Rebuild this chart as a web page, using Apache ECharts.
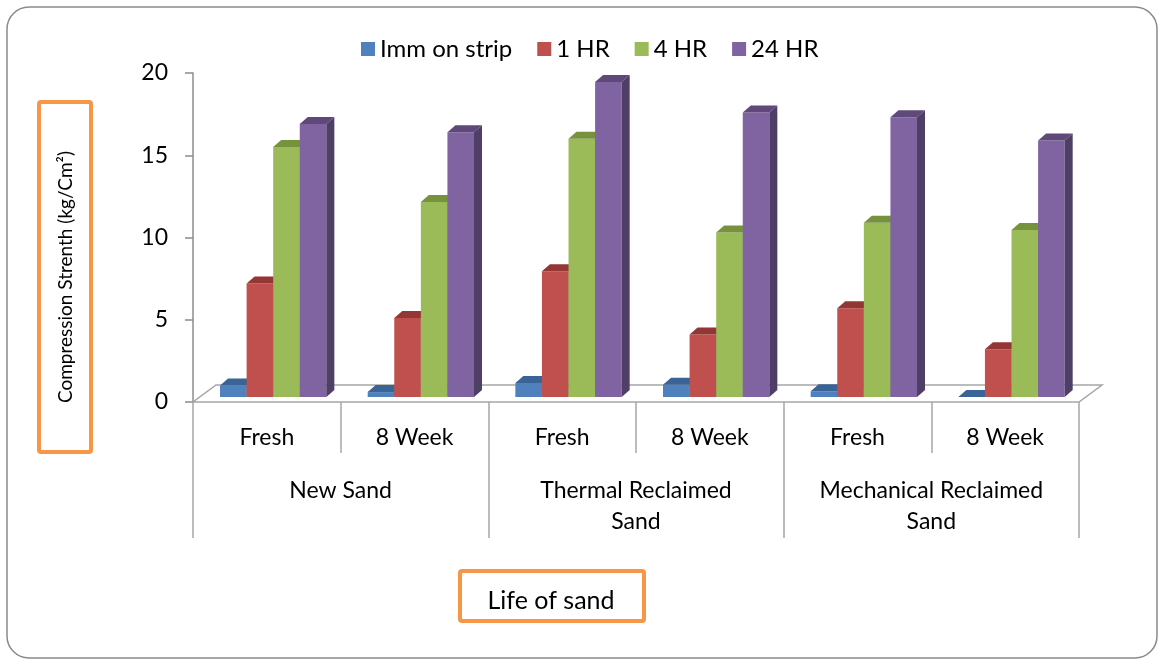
<!DOCTYPE html>
<html>
<head>
<meta charset="utf-8">
<title>Compression Strength vs Life of Sand</title>
<script src="https://cdn.jsdelivr.net/npm/echarts@6/dist/echarts.min.js"></script>
<style>
  html, body { margin: 0; padding: 0; background: #ffffff; }
  #chart { width: 1159px; height: 660px; }
</style>
</head>
<body>
<div id="chart"></div>
<script>
// ---- data ----
const ageLabels = ['Fresh', '8 Week', 'Fresh', '8 Week', 'Fresh', '8 Week'];
const sandGroups = ['New Sand', 'Thermal Reclaimed\nSand', 'Mechanical Reclaimed\nSand'];
const seriesNames = ['Imm on strip', '1 HR', '4 HR', '24 HR'];
const immOnStrip = [0.7, 0.3, 0.85, 0.75, 0.35, 0.0];
const oneHour = [6.9, 4.8, 7.65, 3.8, 5.4, 2.9];
const fourHour = [15.2, 11.85, 15.7, 10.0, 10.6, 10.15];
const dayHour = [16.6, 16.1, 19.15, 17.3, 17.0, 15.6];
const yTicks = [0, 5, 10, 15, 20];

// ---- styling ----
const FONT = 'Lato';
const palette = [
  { front: '#4F81BD', top: '#3A6496', side: '#2F5078' },
  { front: '#C0504D', top: '#943634', side: '#7A2C2A' },
  { front: '#9BBB59', top: '#76923C', side: '#5F7830' },
  { front: '#8064A2', top: '#5F497A', side: '#4F3E66' }
];
const GRID = { left: 193, right: 80, top: 73, bottom: 258 };
const W = 1159, H = 660;
const floorX0 = GRID.left, floorX1 = W - GRID.right, floorY = H - GRID.bottom;
const floorDX = 23, floorDY = -17;   // receding floor edge
const barDX = 8, barDY = -7;         // bar depth
const barLift = 5;                   // bars stand slightly behind the front edge

function boxRenderer(sIdx) {
  const c = palette[sIdx];
  return function (params, api) {
    const ci = api.value(0);
    const v = api.value(1);
    const base = api.coord([ci, 0]);
    const top = api.coord([ci, v]);
    const cw = api.size([1, 0])[0];
    const bw = cw * 0.18;
    const x0 = base[0] - cw / 2 + cw * 0.183 + sIdx * bw;
    const x1 = x0 + bw;
    const yb = base[1] - barLift;
    const yt = top[1] - barLift;
    return {
      type: 'group',
      children: [
        { type: 'rect', shape: { x: x0, y: yt, width: bw, height: yb - yt },
          style: { fill: c.front } },
        { type: 'polygon', shape: { points: [[x0, yt], [x1, yt], [x1 + barDX, yt + barDY], [x0 + barDX, yt + barDY]] },
          style: { fill: c.top } },
        { type: 'polygon', shape: { points: [[x1, yt], [x1 + barDX, yt + barDY], [x1 + barDX, yb + barDY], [x1, yb]] },
          style: { fill: c.side } }
      ]
    };
  };
}

const seriesValues = [immOnStrip, oneHour, fourHour, dayHour];
const series = seriesValues.map(function (vals, s) {
  return {
    name: seriesNames[s],
    type: 'custom',
    renderItem: boxRenderer(s),
    itemStyle: { color: palette[s].front },
    encode: { x: 0, y: 1 },
    data: vals.map(function (v, i) { return [i, v]; }),
    z: 3
  };
});

const chart = echarts.init(document.getElementById('chart'), null, { renderer: 'canvas' });

const axisGrey = '#8C8C8C';
const floorGrey = '#A6A6A6';

chart.setOption({
  backgroundColor: '#ffffff',
  animation: false,
  textStyle: { fontFamily: FONT },
  grid: { left: GRID.left, right: GRID.right, top: GRID.top, bottom: GRID.bottom, containLabel: false },
  legend: {
    data: seriesNames,
    left: 356, top: 32,
    icon: 'rect', itemWidth: 14, itemHeight: 14, itemGap: 25,
    textStyle: { fontFamily: FONT, fontSize: 24, color: '#000' }
  },
  xAxis: [
    {
      type: 'category', data: ageLabels, boundaryGap: true,
      axisLine: { show: false },
      axisTick: { show: true, length: 51, lineStyle: { color: floorGrey, width: 1.5 } },
      axisLabel: { margin: 24, fontFamily: FONT, fontSize: 23, color: '#000' },
      splitLine: { show: false }
    },
    {
      type: 'category', data: sandGroups, boundaryGap: true, position: 'bottom',
      axisLine: { show: false },
      axisTick: { show: true, length: 136, interval: 0, lineStyle: { color: floorGrey, width: 1.5 } },
      axisLabel: { margin: 73, interval: 0, fontFamily: FONT, fontSize: 23, lineHeight: 31, color: '#000' },
      splitLine: { show: false }
    }
  ],
  yAxis: {
    type: 'value', min: yTicks[0], max: yTicks[yTicks.length - 1], interval: 5,
    axisLine: { show: true, lineStyle: { color: axisGrey, width: 1.5 } },
    axisTick: { show: true, length: 8, lineStyle: { color: axisGrey, width: 1.5 } },
    axisLabel: { margin: 25, fontFamily: FONT, fontSize: 23, color: '#000' },
    splitLine: { show: false }
  },
  graphic: [
    // outer frame
    { type: 'rect', z: -10, shape: { x: 7, y: 7, width: 1150, height: 651, r: 22 },
      style: { fill: '#ffffff', stroke: '#8A8A8A', lineWidth: 1.5 } },
    // chart floor
    { type: 'polygon', z: 1,
      shape: { points: [[floorX0, floorY], [floorX1, floorY], [floorX1 + floorDX, floorY + floorDY], [floorX0 + floorDX, floorY + floorDY]] },
      style: { fill: '#ffffff', stroke: floorGrey, lineWidth: 1.5 } },
    // value axis title
    { type: 'rect', shape: { x: 39, y: 102, width: 52, height: 350, r: 2 },
      style: { fill: '#ffffff', stroke: '#F79646', lineWidth: 4 } },
    { type: 'text', x: 66, y: 277, rotation: Math.PI / 2,
      style: { text: 'Compression Strenth (kg/Cm\u00B2)', fontFamily: FONT, fontSize: 19, fill: '#000',
               align: 'center', verticalAlign: 'middle' } },
    // category axis title
    { type: 'rect', shape: { x: 460, y: 571, width: 184, height: 50, r: 2 },
      style: { fill: '#ffffff', stroke: '#F79646', lineWidth: 4 } },
    { type: 'text', x: 551, y: 601,
      style: { text: 'Life of sand', fontFamily: FONT, fontSize: 25, fill: '#000',
               align: 'center', verticalAlign: 'middle' } }
  ],
  series: series
});
</script>
</body>
</html>
